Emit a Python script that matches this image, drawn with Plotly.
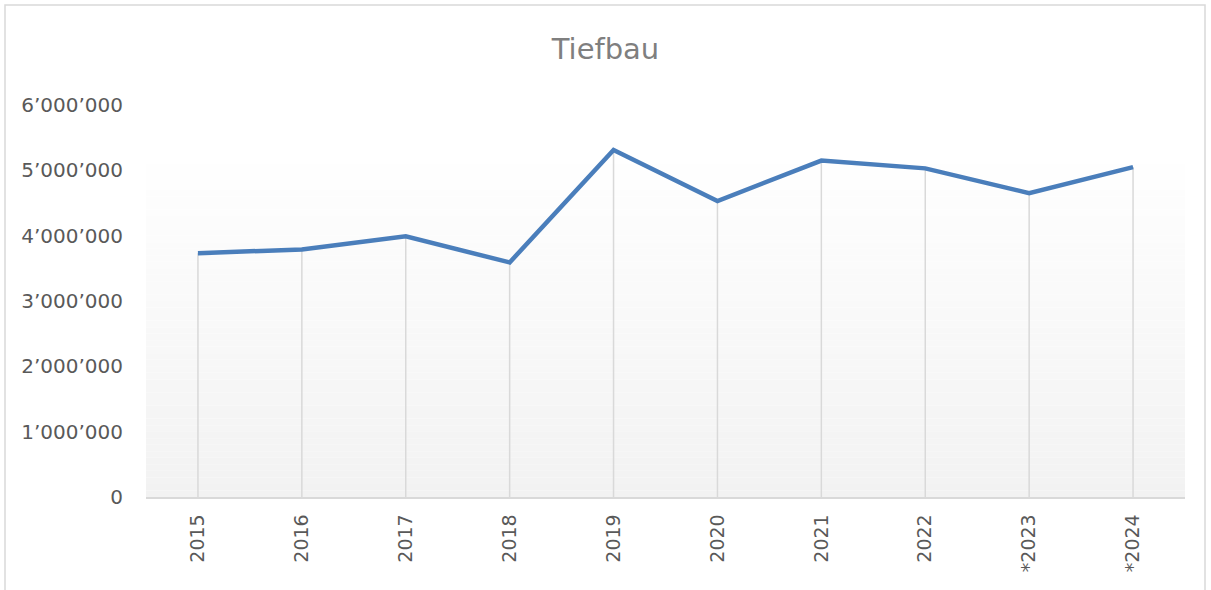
import plotly.graph_objects as go

categories = ["2015", "2016", "2017", "2018", "2019", "2020", "2021", "2022", "*2023", "*2024"]
values = [3730000, 3790000, 3990000, 3590000, 5310000, 4530000, 5150000, 5030000, 4650000, 5050000]
y_ticks = [0, 1000000, 2000000, 3000000, 4000000, 5000000, 6000000]

W, H = 1211, 590
L, R, T, B = 146, 26, 105, 93
pw, ph = W - L - R, H - T - B

fig = go.Figure()

# drop lines from points to axis
dx, dy = [], []
for c, v in zip(categories, values):
    dx += [c, c, None]
    dy += [0, v, None]
fig.add_trace(go.Scatter(x=dx, y=dy, mode="lines",
                         line=dict(color="#d9d9d9", width=1.5),
                         hoverinfo="skip", showlegend=False))

fig.add_trace(go.Scatter(x=categories, y=values, mode="lines",
                         line=dict(color="#4a7ebb", width=4.5),
                         showlegend=False, name="Tiefbau"))

# gradient background of plot area
shapes = []
n = 60
for i in range(n):
    f = (i + 0.5) / n  # 0 bottom .. 1 top
    g = int(round(242 + (255 - 242) * min(1.0, f / 0.88)))
    shapes.append(dict(type="rect", xref="paper", yref="paper",
                       x0=0, x1=1, y0=i / n, y1=(i + 1) / n,
                       fillcolor=f"rgb({g},{g},{g})", line=dict(width=0),
                       layer="below"))
# chart border
shapes.append(dict(type="rect", xref="paper", yref="paper",
                   x0=(5 - L) / pw, x1=(1205 - L) / pw,
                   y0=(H - B - 592) / ph, y1=(H - B - 5) / ph,
                   line=dict(color="#d9d9d9", width=1.5), fillcolor="rgba(0,0,0,0)",
                   layer="below"))

FONT = "DejaVu Sans"
fig.update_layout(
    width=W, height=H,
    margin=dict(l=L, r=R, t=T, b=B),
    paper_bgcolor="white",
    plot_bgcolor="rgba(0,0,0,0)",
    separators=".’",
    font=dict(family=FONT, color="#595959", size=20),
    title=dict(text="Tiefbau", x=0.5, xanchor="center", xref="container",
               y=1 - 49 / H, yanchor="middle",
               font=dict(family=FONT, size=29, color="#7f7f7f")),
    shapes=shapes,
    xaxis=dict(type="category", categoryorder="array", categoryarray=categories,
               range=[-0.5, len(categories) - 0.5],
               showgrid=False, zeroline=False,
               showline=True, linecolor="#d9d9d9", linewidth=1.5,
               ticks="", tickangle=-90, ticklabelstandoff=8,
               tickfont=dict(size=19, color="#595959")),
    yaxis=dict(range=[0, 6000000], tickvals=y_ticks, tickformat=",d",
               showgrid=False, zeroline=False, showline=False, ticks="",
               ticklabelstandoff=22,
               tickfont=dict(size=20, color="#595959")),
)

fig.write_html("out.html", config={"displayModeBar": False},
               post_script="document.body.style.margin='0';")
